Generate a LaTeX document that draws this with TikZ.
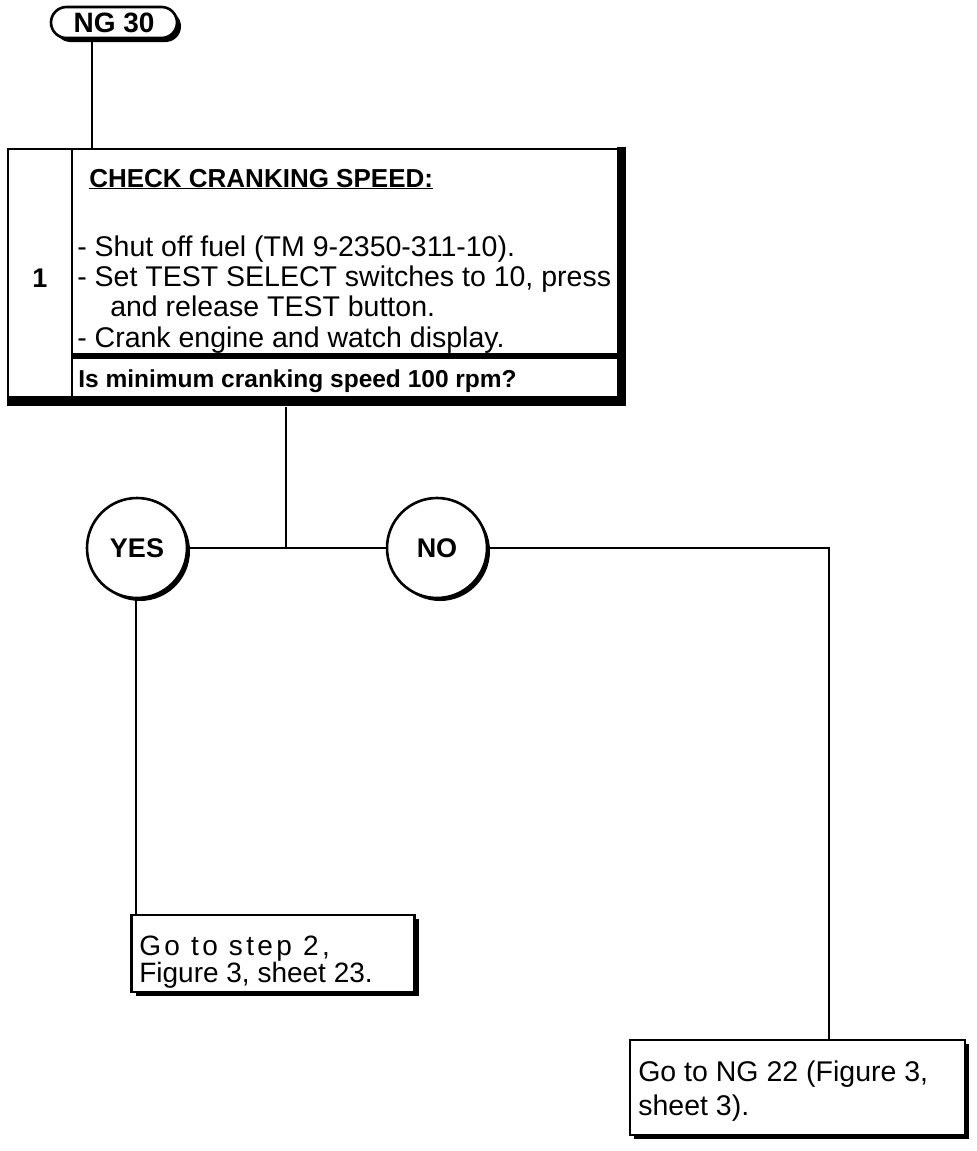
\documentclass[tikz,border=0pt]{standalone}
\usepackage{fontspec}
\setmainfont{Liberation Sans}
\usetikzlibrary{shapes.misc,shadows}
\begin{document}
\begin{tikzpicture}[x=1pt,y=-1pt,line width=2.6pt,
  pill/.style={draw,fill=white,rounded rectangle,minimum width=126pt,minimum height=31pt,inner sep=0pt,
    font=\bfseries\fontsize{28}{30}\selectfont,
    drop shadow={shadow xshift=4pt,shadow yshift=-4pt,fill=black,opacity=1}},
  decision/.style={draw,fill=white,circle,minimum size=100pt,inner sep=0pt,
    font=\bfseries\fontsize{27}{29}\selectfont,
    drop shadow={shadow xshift=3pt,shadow yshift=-3pt,fill=black,opacity=1}},
  stepbox/.style={draw,fill=white,inner sep=0pt},
  gobox/.style={draw,fill=white,inner sep=0pt,
    drop shadow={shadow xshift=4pt,shadow yshift=-4pt,fill=black,opacity=1}},
  body/.style={anchor=base west,inner sep=0pt,font=\fontsize{28.5}{30}\selectfont},
  gotext/.style={anchor=north west,inner sep=0pt,align=left},
  conn/.style={line width=2.6pt}]
\useasboundingbox (0,0) rectangle (977,1151);

% start terminal
\node[pill] (ng) at (114,22.5) {NG 30};

% step box
\node[stepbox,minimum width=612pt,minimum height=249pt] (box) at (314,273.5) {};
\fill (617,147) rectangle (626,406);
\fill (7,396) rectangle (626,406);
\draw (72,149) -- (72,398);
\draw[line width=6pt] (72,356) -- (620,356);
\node[anchor=center,inner sep=0pt,font=\bfseries\fontsize{27}{29}\selectfont] (num) at (40,278) {1};
\node[anchor=base west,inner sep=0pt,font=\bfseries\fontsize{26}{28}\selectfont] (title) at (88,187) {\underline{CHECK CRANKING SPEED:}};
\node[body] (b1) at (76,256) {- Shut off fuel (TM 9-2350-311-10).};
\node[body] (b2) at (76,286) {- Set TEST SELECT switches to 10, press};
\node[body] (b3) at (109,316) {and release TEST button.};
\node[body] (b4) at (76,347) {- Crank engine and watch display.};
\node[anchor=base west,inner sep=0pt,font=\bfseries\fontsize{24.5}{27}\selectfont] (q) at (77,387) {Is minimum cranking speed 100 rpm?};

% decisions
\node[decision] (yes) at (137,548) {YES};
\node[decision] (no) at (437,548) {NO};
\coordinate (j) at (286,548);
\coordinate (nc) at (829,548);

% targets
\node[gobox,minimum width=283pt,minimum height=77pt] (gyes) at (273,953.5) {};
\node[gotext,font=\fontsize{28}{22.5}\selectfont] (gy) at (138,935)
  {{\addfontfeature{LetterSpace=12}Go to step 2,}\\Figure 3, sheet 23.};

\node[gobox,minimum width=335pt,minimum height=95pt] (gno) at (797.5,1087.5) {};
\node[gotext,font=\fontsize{28.5}{34}\selectfont] (gn) at (637,1060)
  {Go to NG 22 (Figure 3,\\sheet 3).};

% connectors
\draw[conn] (ng.south -| 92,0) -- (box.north -| 92,0);
\draw[conn] (box.south -| j) ++(0,8) -- (j);
\draw[conn] (yes) -- (no);
\draw[conn] (no) -- (nc) -- (gno.north -| nc);
\draw[conn] (yes.south -| 136,0) -- (gyes.north -| 136,0);
\end{tikzpicture}
\end{document}
